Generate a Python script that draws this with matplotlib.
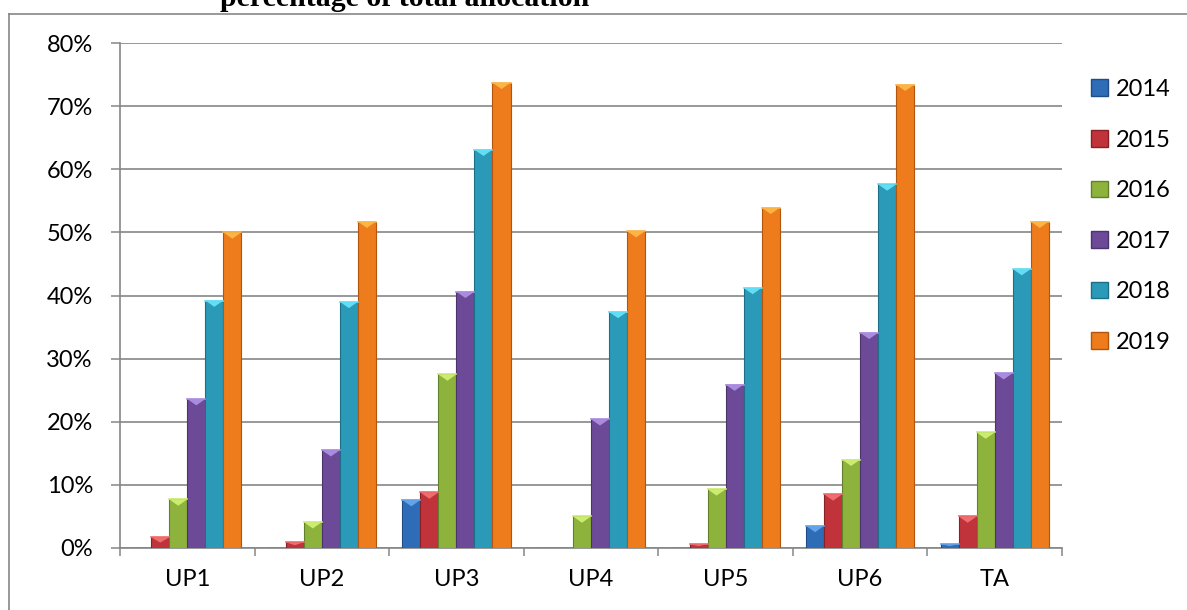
import numpy as np
import matplotlib.pyplot as plt
from matplotlib.patches import Patch
from matplotlib.lines import Line2D

# categories and yearly shares (in %)
categories = ['UP1', 'UP2', 'UP3', 'UP4', 'UP5', 'UP6', 'TA']
years = ['2014', '2015', '2016', '2017', '2018', '2019']
v2014 = [0.0, 0.0, 7.6, 0.0, 0.0, 3.5, 0.6]
v2015 = [1.7, 0.9, 8.8, 0.0, 0.6, 8.5, 5.0]
v2016 = [7.7, 4.1, 27.5, 5.0, 9.3, 14.0, 18.3]
v2017 = [23.6, 15.5, 40.6, 20.4, 25.9, 34.1, 27.7]
v2018 = [39.2, 39.0, 63.1, 37.4, 41.2, 57.6, 44.2]
v2019 = [50.0, 51.7, 73.7, 50.2, 53.9, 73.4, 51.7]
series = [v2014, v2015, v2016, v2017, v2018, v2019]

# body, bevel (lighter) and edge (darker) colours per year
body = ['#2f6cb8', '#c0333a', '#8db33c', '#6c4a98', '#2a9ab8', '#ee7c1c']
bevel = ['#62a3ea', '#f06d6d', '#cbec6e', '#a98be0', '#62def4', '#fcb444']
edge = ['#1f4c85', '#8a1f24', '#62802a', '#4b336c', '#1c6f86', '#b0560f']

plt.rcParams['font.family'] = ['Lato', 'DejaVu Sans']

fig = plt.figure(figsize=(11.87, 6.10), dpi=100)
ax = fig.add_axes([120 / 1187, 1 - 548 / 610, (1062 - 120) / 1187, (548 - 43) / 610])

x = np.arange(len(categories))
w = 0.134
for i, vals in enumerate(series):
    pos = x + (i - 2.5) * w
    bars = ax.bar(pos, vals, width=w, color=body[i], edgecolor=edge[i],
                  linewidth=0.8, zorder=3, label=years[i])
    # bevelled top: a lighter downward triangle on each bar
    for b in bars:
        h = b.get_height()
        if h <= 0:
            continue
        bh = min(1.0, h / 2)
        x0, bw = b.get_x(), b.get_width()
        ax.fill([x0, x0 + bw, x0 + bw / 2], [h, h, h - bh], color=bevel[i],
                lw=0, zorder=4)
        ax.plot([x0, x0 + bw], [h, h], color=bevel[i], lw=1.2, zorder=4)

ax.set_xlim(-0.5, len(categories) - 0.5)
ax.set_ylim(0, 80)
ax.set_yticks(np.arange(0, 81, 10))
ax.set_yticklabels([f'{v}%' for v in range(0, 81, 10)])
ax.set_xticks(x)
ax.set_xticklabels(categories)
ax.set_xticks(np.arange(-0.5, len(categories)), minor=True)
ax.tick_params(axis='x', which='major', length=0, pad=15, labelsize=17)
ax.tick_params(axis='x', which='minor', length=5.5, width=1.1, color='#868686')
ax.tick_params(axis='y', length=6.5, width=1.1, color='#868686', pad=13, labelsize=17)

ax.grid(axis='y', color='#868686', lw=1.2, zorder=0)
ax.set_axisbelow(True)
for s in ['top', 'right']:
    ax.spines[s].set_visible(False)
for s in ['left', 'bottom']:
    ax.spines[s].set_color('#868686')
    ax.spines[s].set_linewidth(1.2)

handles = [Patch(facecolor=body[i], edgecolor=edge[i], label=years[i]) for i in range(6)]
fig.legend(handles=handles, loc='upper left', bbox_to_anchor=(1091 / 1187, 1 - 79 / 610),
           frameon=False, fontsize=17, handlelength=0.7, handleheight=0.7,
           handletextpad=0.35, labelspacing=1.25, borderpad=0, borderaxespad=0)

# outer chart frame (left and top edges)
fig.add_artist(Line2D([9 / 1187, 9 / 1187], [0, 1 - 14 / 610], color='#868686', lw=1.2))
fig.add_artist(Line2D([9 / 1187, 1], [1 - 14 / 610, 1 - 14 / 610], color='#868686', lw=1.2))

fig.text(405 / 1187, 1 - 6 / 610, 'percentage of total allocation', ha='center',
         va='baseline', fontsize=21.5, fontweight='bold', family='Liberation Serif')

fig.savefig('out.png', dpi=100)
